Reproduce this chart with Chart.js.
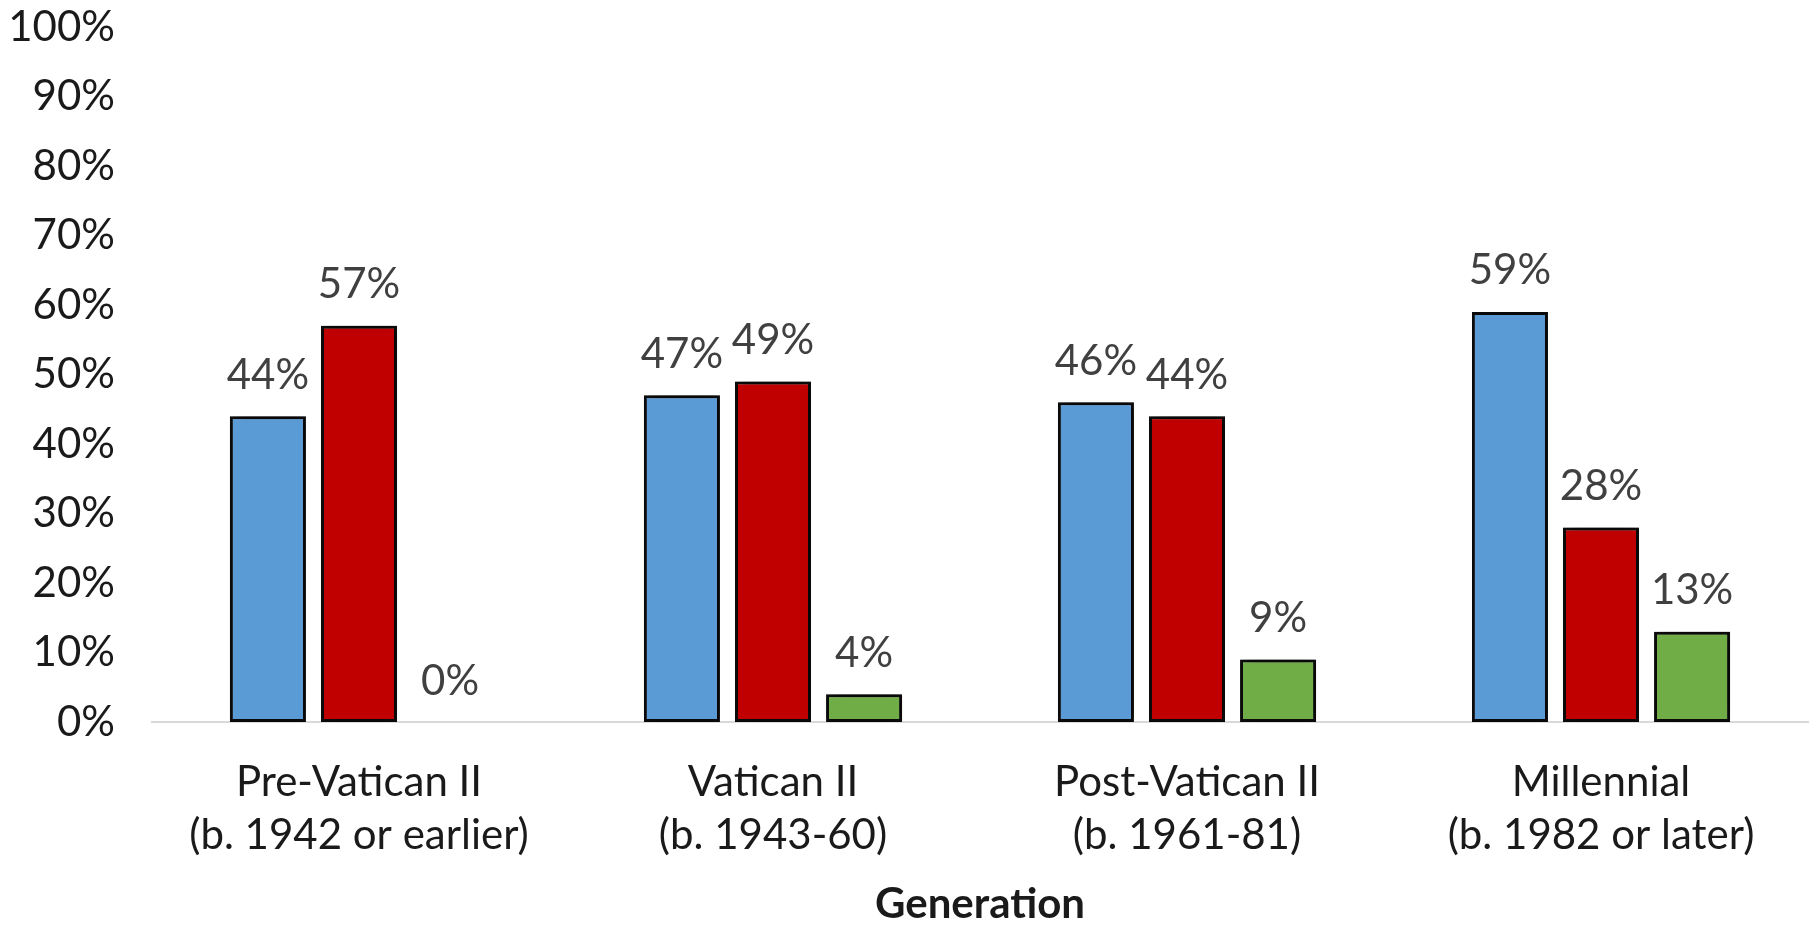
<!DOCTYPE html>
<html>
<head>
<meta charset="utf-8">
<script src="https://cdn.jsdelivr.net/npm/chart.js@4/dist/chart.umd.min.js"></script>
<style>
  html, body { margin: 0; padding: 0; background: #ffffff; }
  #wrap { width: 1816px; height: 925px; }
</style>
</head>
<body>
<div id="wrap"><canvas id="c" width="1816" height="925"></canvas></div>
<script>
const categories = [
  ["Pre-Vatican II", "(b. 1942 or earlier)"],
  ["Vatican II", "(b. 1943-60)"],
  ["Post-Vatican II", "(b. 1961-81)"],
  ["Millennial", "(b. 1982 or later)"]
];
const seriesBlue = [44, 47, 46, 59];
const seriesRed = [57, 49, 44, 28];
const seriesGreen = [0, 4, 9, 13];
const yTickValues = [0, 10, 20, 30, 40, 50, 60, 70, 80, 90, 100];
const axisTitle = "Generation";

const FONT = "Lato, 'Open Sans', sans-serif";

const shadowAndLabels = {
  id: 'shadowAndLabels',
  beforeDatasetsDraw(chart) {
    const ctx = chart.ctx;
    ctx.save();
    ctx.shadowColor = 'rgba(0,0,0,0.7)';
    ctx.shadowBlur = 14;
    ctx.shadowOffsetX = 2;
    ctx.shadowOffsetY = 0;
  },
  afterDatasetsDraw(chart) {
    const ctx = chart.ctx;
    ctx.restore();
    ctx.save();
    ctx.font = "42px " + FONT;
    ctx.fillStyle = '#404040';
    ctx.textAlign = 'center';
    ctx.textBaseline = 'middle';
    chart.data.datasets.forEach((ds, di) => {
      const meta = chart.getDatasetMeta(di);
      meta.data.forEach((el, i) => {
        const v = ds.data[i];
        ctx.fillText(v + '%', el.x, el.y - 41);
      });
    });
    ctx.restore();
  }
};

const barCommon = {
  borderColor: '#0d0d0d',
  borderWidth: 3,
  borderSkipped: false,
  categoryPercentage: 0.66,
  barPercentage: 0.835
};

new Chart(document.getElementById('c'), {
  type: 'bar',
  data: {
    labels: categories,
    datasets: [
      Object.assign({ label: 'Blue', data: seriesBlue, backgroundColor: '#5B9BD5' }, barCommon),
      Object.assign({ label: 'Red', data: seriesRed, backgroundColor: '#C00000' }, barCommon),
      Object.assign({ label: 'Green', data: seriesGreen, backgroundColor: '#70AD47' }, barCommon)
    ]
  },
  options: {
    responsive: false,
    devicePixelRatio: 1,
    animation: false,
    layout: { padding: { top: 27, right: 8, left: 0, bottom: 0 } },
    plugins: {
      legend: { display: false },
      tooltip: { enabled: false }
    },
    scales: {
      x: {
        grid: { display: false, drawTicks: false },
        border: { display: true, color: '#d9d9d9', width: 2 },
        ticks: {
          color: '#1a1a1a',
          padding: 34,
          font: { family: FONT, size: 42, lineHeight: 1.26 },
          maxRotation: 0,
          autoSkip: false
        },
        title: {
          display: true,
          text: axisTitle,
          color: '#1a1a1a',
          font: { family: FONT, size: 42, weight: 'bold', lineHeight: 1.0 },
          padding: { top: 0, bottom: 0 }
        },
        afterFit(scale) { scale.height = 203; scale.paddingLeft = 0; scale.paddingRight = 0; }
      },
      y: {
        min: 0,
        max: 100,
        grid: { display: false, drawTicks: false },
        border: { display: false },
        afterBuildTicks(scale) { scale.ticks = yTickValues.map(v => ({ value: v })); },
        ticks: {
          color: '#1a1a1a',
          padding: 37,
          font: { family: FONT, size: 42 },
          callback: (v) => v + '%'
        },
        afterFit(scale) { scale.width = 152; scale.paddingTop = 0; scale.paddingBottom = 0; }
      }
    }
  },
  plugins: [shadowAndLabels]
});
</script>
</body>
</html>
